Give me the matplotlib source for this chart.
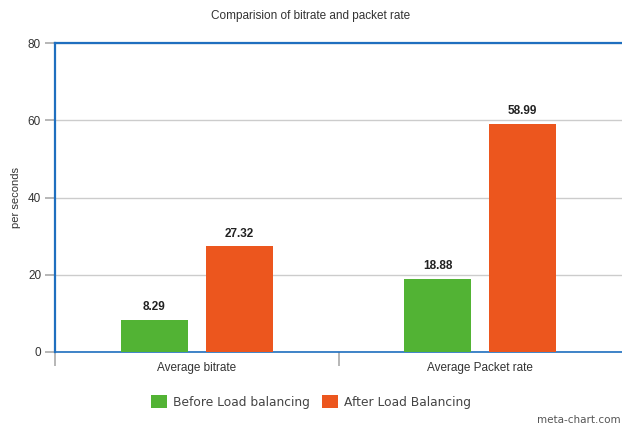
import matplotlib.pyplot as plt
import numpy as np

categorias = ['Average bitrate', 'Average Packet rate']
series = ['Before Load balancing', 'After Load Balancing']
antes = [8.29, 18.88]
despues = [27.32, 58.99]
colores = ['#52b334', '#ec561e']

plt.rcParams['font.family'] = 'Liberation Sans'

fig = plt.figure(figsize=(6.22, 4.28), dpi=100)
ax = fig.add_axes([55 / 622, 1 - 352 / 428, 567 / 622, 309 / 428])

x = np.arange(len(categorias))
ancho = 0.236
desp = 0.15
b1 = ax.bar(x - desp, antes, ancho, color=colores[0], label=series[0], zorder=3)
b2 = ax.bar(x + desp, despues, ancho, color=colores[1], label=series[1], zorder=3)

# etiquetas de valor encima de cada barra
for barras in (b1, b2):
    for b in barras:
        ax.annotate(f'{b.get_height():.2f}', (b.get_x() + b.get_width() / 2, b.get_height()),
                    xytext=(0, 5), textcoords='offset points', ha='center', va='bottom',
                    fontsize=8.5, fontweight='bold', color='#222222')

ax.set_xlim(-0.5, 1.5)
ax.set_ylim(0, 80)
ax.set_yticks([0, 20, 40, 60, 80])
ax.grid(axis='y', color='#cccccc', linewidth=1, zorder=0)
ax.tick_params(axis='y', length=7, width=1.2, color='#aaaaaa', labelsize=8.5,
               labelcolor='#333333', pad=3)

# marcas de categoria en el eje x
ax.set_xticks([-0.5, 0.5], minor=False)
ax.set_xticklabels([])
ax.set_xticks(x, minor=True)
ax.set_xticklabels(categorias, minor=True, fontsize=8.5, color='#333333')
ax.tick_params(axis='x', which='major', length=10, width=1.2, color='#aaaaaa')
ax.tick_params(axis='x', which='minor', length=0, pad=7)

for lado in ('left', 'top', 'bottom'):
    ax.spines[lado].set_color('#1f6fbf')
    ax.spines[lado].set_linewidth(1.6)
ax.spines['bottom'].set_linewidth(1.2)
ax.spines['right'].set_visible(False)

ax.set_ylabel('per seconds', fontsize=8, labelpad=5, color='#333333')
fig.text(0.5, 1 - 16 / 428, 'Comparision of bitrate and packet rate', fontsize=8.5,
         ha='center', va='center', color='#333333')

fig.legend(handles=[b1, b2], loc='center', bbox_to_anchor=(0.5, 1 - 402 / 428), ncol=2,
           frameon=False, handlelength=1.3, handleheight=1.2,
           columnspacing=1.0, handletextpad=0.5, labelcolor='#444444',
           prop={'family': 'DejaVu Sans', 'size': 8.8})
fig.text(0.997, 0.008, 'meta-chart.com', ha='right', va='bottom', fontsize=7.5,
         color='#555555', family='DejaVu Sans')

fig.savefig('out.png', dpi=100)
